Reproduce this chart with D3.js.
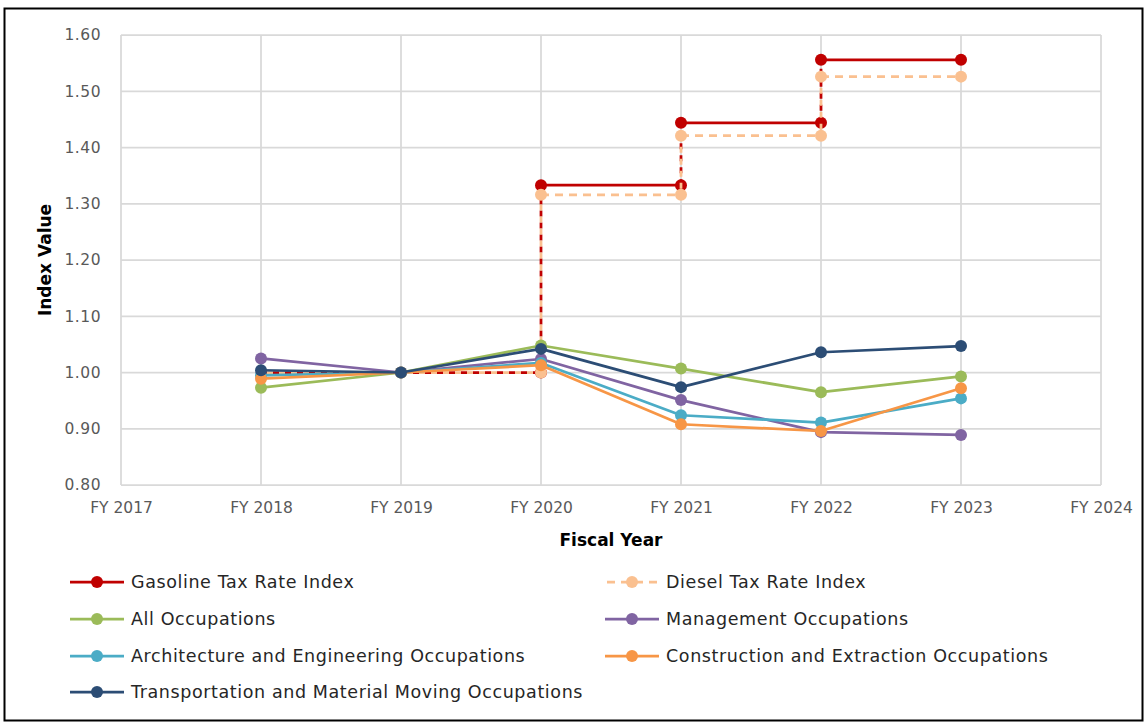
<!DOCTYPE html>
<html>
<head>
<meta charset="utf-8">
<script src="https://cdn.jsdelivr.net/npm/d3@7"></script>
<style>
  html, body { margin: 0; padding: 0; background: #fff; }
  svg { display: block; font-family: "DejaVu Sans", "Open Sans", sans-serif; }
</style>
</head>
<body>
<svg id="chart" width="1147" height="724"></svg>
<script>
// Fiscal years on the x axis
const years = [2018, 2019, 2020, 2021, 2022, 2023];
const xTickYears = [2017, 2018, 2019, 2020, 2021, 2022, 2023, 2024];
const yTicks = [0.80, 0.90, 1.00, 1.10, 1.20, 1.30, 1.40, 1.50, 1.60];

// Tax rate indexes (step series: value in effect from that year on)
const gasolineIndex = [1.000, 1.000, 1.333, 1.444, 1.556, 1.556];
const dieselIndex   = [1.000, 1.000, 1.316, 1.421, 1.526, 1.526];

// Wage indexes by occupation group
const allOccupations            = [0.973, 1.000, 1.048, 1.007, 0.965, 0.993];
const managementOccupations     = [1.025, 1.000, 1.024, 0.951, 0.894, 0.889];
const architectureOccupations   = [0.995, 1.000, 1.017, 0.924, 0.911, 0.954];
const constructionOccupations   = [0.989, 1.000, 1.013, 0.908, 0.896, 0.972];
const transportationOccupations = [1.004, 1.000, 1.042, 0.974, 1.036, 1.047];

const svg = d3.select("#chart");

const x = d3.scaleLinear().domain([2017, 2024]).range([121, 1101]);
const y = d3.scaleLinear().domain([0.80, 1.60]).range([485, 35]);

const gridColor = "#D9D9D9";
const tickColor = "#595959";
const LW = 2.75, R = 6;

// outer frame
svg.append("rect").attr("x", 4.5).attr("y", 8.5).attr("width", 1138).attr("height", 712)
  .attr("fill", "#fff").attr("stroke", "#000").attr("stroke-width", 2);

// gridlines
const grid = svg.append("g");
grid.selectAll("line.h").data(yTicks).join("line")
  .attr("x1", x(2017)).attr("x2", x(2024))
  .attr("y1", d => y(d)).attr("y2", d => y(d))
  .attr("stroke", gridColor).attr("stroke-width", 1.75);
grid.selectAll("line.v").data(xTickYears).join("line")
  .attr("x1", d => x(d)).attr("x2", d => x(d))
  .attr("y1", y(0.8)).attr("y2", y(1.6))
  .attr("stroke", gridColor).attr("stroke-width", 1.75);

// axes (labels only; lines come from the grid)
const yAxis = svg.append("g").attr("transform", `translate(${x(2017)},0)`)
  .call(d3.axisLeft(y).tickValues(yTicks).tickFormat(d3.format(".2f")).tickSize(0).tickPadding(20));
yAxis.select(".domain").remove();
yAxis.selectAll("text").attr("fill", tickColor).attr("font-size", 15.5)
  .attr("letter-spacing", 0.5).attr("font-family", "DejaVu Sans, sans-serif");

const xAxis = svg.append("g").attr("transform", `translate(0,${y(0.8)})`)
  .call(d3.axisBottom(x).tickValues(xTickYears).tickFormat(d => "FY " + d).tickSize(0).tickPadding(17));
xAxis.select(".domain").remove();
xAxis.selectAll("text").attr("fill", tickColor).attr("font-size", 15.5)
  .attr("font-family", "DejaVu Sans, sans-serif");

// axis titles
svg.append("text").attr("x", x(2020.5)).attr("y", 546).attr("text-anchor", "middle")
  .attr("font-size", 17).attr("font-weight", "bold").attr("fill", "#000").text("Fiscal Year");
svg.append("text").attr("transform", `translate(51,${y(1.2)}) rotate(-90)`).attr("text-anchor", "middle")
  .attr("font-size", 17).attr("font-weight", "bold").attr("fill", "#000").text("Index Value");

const plot = svg.append("g");

// Build step segments for a tax index: horizontal runs and vertical risers
function stepSegments(vals) {
  const segs = [];
  const base = vals[0];
  for (let i = 0; i < vals.length - 1; i++) {
    segs.push({ type: vals[i] > base ? "raised" : "base",
      x1: years[i], y1: vals[i], x2: years[i + 1], y2: vals[i] });
    if (vals[i + 1] !== vals[i]) {
      segs.push({ type: "riser", x1: years[i + 1], y1: vals[i], x2: years[i + 1], y2: vals[i + 1] });
    }
  }
  return segs;
}
// markers at both ends of every riser and at the final point
function stepMarkers(vals) {
  const pts = [];
  for (let i = 1; i < vals.length; i++) {
    if (vals[i] !== vals[i - 1]) {
      pts.push([years[i], vals[i - 1]], [years[i], vals[i]]);
    }
  }
  pts.push([years[vals.length - 1], vals[vals.length - 1]]);
  return pts;
}

const taxSeries = [
  { name: "Gasoline Tax Rate Index", color: "#C00000", vals: gasolineIndex, raisedDash: null, offset: 0 },
  { name: "Diesel Tax Rate Index", color: "#FAC090", vals: dieselIndex, raisedDash: "8,6", offset: 6 }
];

taxSeries.forEach(s => {
  const g = plot.append("g");
  g.selectAll("line").data(stepSegments(s.vals)).join("line")
    .attr("x1", d => x(d.x1)).attr("y1", d => y(d.y1))
    .attr("x2", d => x(d.x2)).attr("y2", d => y(d.y2))
    .attr("stroke", s.color).attr("stroke-width", LW)
    .attr("stroke-dasharray", d => d.type === "raised" ? s.raisedDash : "6,6")
    .attr("stroke-dashoffset", d => d.type === "raised" ? 0 : s.offset);
  g.selectAll("circle").data(stepMarkers(s.vals)).join("circle")
    .attr("cx", d => x(d[0])).attr("cy", d => y(d[1])).attr("r", R)
    .attr("fill", s.color);
});

const occSeries = [
  { name: "All Occupations", color: "#9BBB59", vals: allOccupations },
  { name: "Management Occupations", color: "#8064A2", vals: managementOccupations },
  { name: "Architecture and Engineering Occupations", color: "#4BACC6", vals: architectureOccupations },
  { name: "Construction and Extraction Occupations", color: "#F79646", vals: constructionOccupations },
  { name: "Transportation and Material Moving Occupations", color: "#2C4D75", vals: transportationOccupations }
];

const line = d3.line().x((d, i) => x(years[i])).y(d => y(d));
occSeries.forEach(s => {
  const g = plot.append("g");
  g.append("path").datum(s.vals).attr("d", line)
    .attr("fill", "none").attr("stroke", s.color).attr("stroke-width", LW)
    .attr("stroke-linejoin", "round");
  g.selectAll("circle").data(s.vals).join("circle")
    .attr("cx", (d, i) => x(years[i])).attr("cy", d => y(d)).attr("r", R)
    .attr("fill", s.color);
});

// legend
const legendItems = [
  { s: taxSeries[0], col: 0, row: 0, dash: null },
  { s: taxSeries[1], col: 1, row: 0, dash: "8,6" },
  { s: occSeries[0], col: 0, row: 1 },
  { s: occSeries[1], col: 1, row: 1 },
  { s: occSeries[2], col: 0, row: 2 },
  { s: occSeries[3], col: 1, row: 2 },
  { s: occSeries[4], col: 0, row: 3 }
];
const colX = [70, 605], rowY = [582, 619, 656, 692];
const legend = svg.append("g");
legendItems.forEach(it => {
  const lx = colX[it.col], ly = rowY[it.row];
  const g = legend.append("g").attr("transform", `translate(${lx},${ly})`);
  g.append("line").attr("x1", 0).attr("x2", 54).attr("y1", 0).attr("y2", 0)
    .attr("stroke", it.s.color).attr("stroke-width", LW)
    .attr("stroke-dasharray", it.dash || null).attr("stroke-dashoffset", it.dash ? -2 : null);
  g.append("circle").attr("cx", 27).attr("cy", 0).attr("r", R).attr("fill", it.s.color);
  g.append("text").attr("x", 61).attr("y", 0).attr("dy", "0.35em")
    .attr("font-size", 17.5).attr("letter-spacing", 0.6).attr("fill", "#262626").text(it.s.name);
});
</script>
</body>
</html>
